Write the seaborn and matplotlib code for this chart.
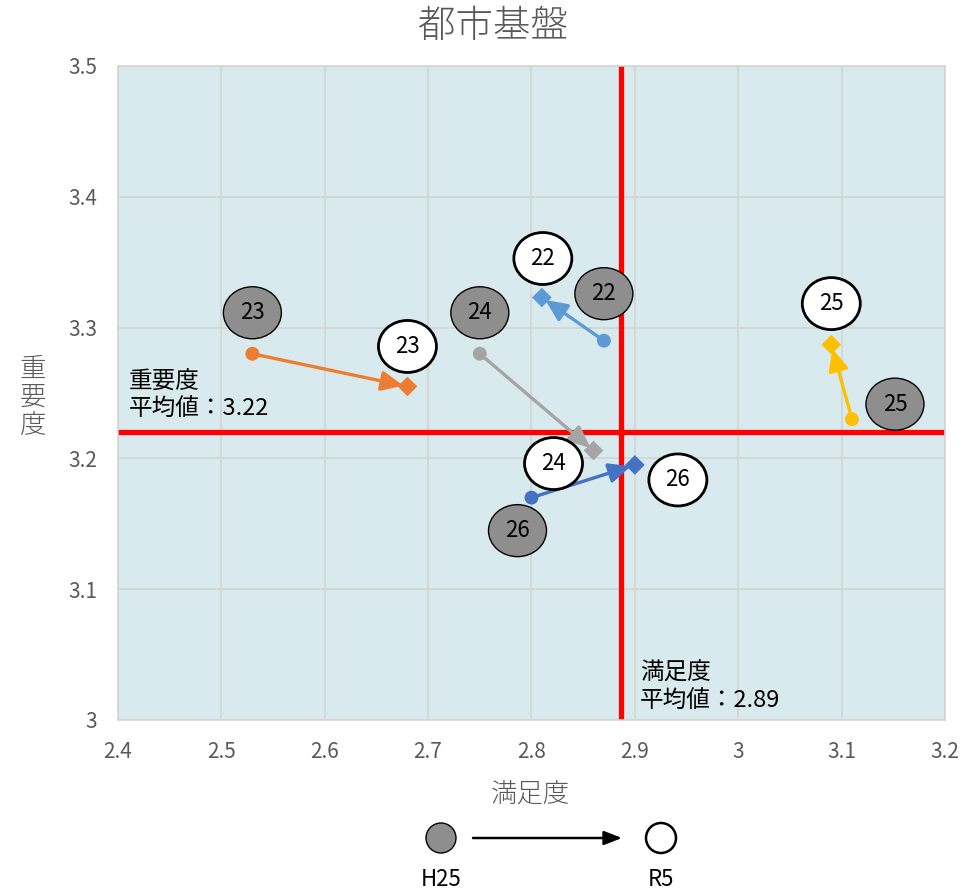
import numpy as np
import pandas as pd
import matplotlib
matplotlib.use("Agg")
import matplotlib.pyplot as plt
from matplotlib.patches import Ellipse
import seaborn as sns

# -------------------------
# Data
# -------------------------
items = ["22", "23", "24", "25", "26"]
sat_h25 = [2.87, 2.53, 2.75, 3.11, 2.80]
imp_h25 = [3.29, 3.28, 3.28, 3.23, 3.17]
sat_r5 = [2.81, 2.68, 2.86, 3.09, 2.90]
imp_r5 = [3.323, 3.255, 3.206, 3.287, 3.195]
item_colors = ["#5B9BD5", "#ED7D31", "#A5A5A5", "#FFC000", "#4472C4"]

sat_mean = 2.887
imp_mean = 3.22

x_ticks = [2.4, 2.5, 2.6, 2.7, 2.8, 2.9, 3.0, 3.1, 3.2]
y_ticks = [3.0, 3.1, 3.2, 3.3, 3.4, 3.5]

# label bubble offsets in pixels (dx right, dy up) from each marker
h25_offsets = [(0, 47), (0, 41), (0, 41), (43, 15), (-14, -33)]
r5_offsets = [(1, 39), (0, 40), (-40, -13), (0, 41), (43, -15)]

GRAY_TXT = "#595959"

sns.set_theme(style="white")
plt.rcParams["font.family"] = ["Noto Sans CJK JP", "DejaVu Sans"]

fig = plt.figure(figsize=(9.77, 8.92), dpi=100)
ax = fig.add_axes([118 / 977, 1 - 720 / 892, 827 / 977, 654 / 892])
ax.set_facecolor("#D9EAEE")
ax.set_xlim(2.4, 3.2)
ax.set_ylim(3.0, 3.5)
ax.set_xticks(x_ticks)
ax.set_yticks(y_ticks)
ax.set_xticklabels([f"{v:g}" for v in x_ticks], fontsize=15, color=GRAY_TXT)
ax.set_yticklabels([f"{v:g}" for v in y_ticks], fontsize=15, color=GRAY_TXT)
ax.tick_params(axis="x", length=0, pad=15)
ax.tick_params(axis="y", length=0, pad=15)
ax.grid(True, color="#D4D4D4", linewidth=1.2)
ax.set_axisbelow(True)
for s in ax.spines.values():
    s.set_color("#D4D4D4")
    s.set_linewidth(1.2)

# mean lines
ax.axvline(sat_mean, color="#FF0000", linewidth=3.8, zorder=2)
ax.axhline(imp_mean, color="#FF0000", linewidth=3.8, zorder=2)

# arrows between periods
for i in range(len(items)):
    ax.annotate(
        "", xy=(sat_r5[i], imp_r5[i]), xytext=(sat_h25[i], imp_h25[i]),
        arrowprops=dict(arrowstyle="-|>,head_length=1.1,head_width=0.5",
                        color=item_colors[i], lw=2.4, shrinkA=0, shrinkB=3),
        zorder=3,
    )

df = pd.DataFrame({
    "item": items * 2,
    "sat": sat_h25 + sat_r5,
    "imp": imp_h25 + imp_r5,
    "period": ["H25"] * 5 + ["R5"] * 5,
})
sns.scatterplot(data=df, x="sat", y="imp", hue="item", style="period",
                palette=item_colors, markers={"H25": "o", "R5": "D"},
                s=100, linewidth=0, legend=False, ax=ax, zorder=4)
ax.set_xlabel("")
ax.set_ylabel("")

# label bubbles
fig.canvas.draw()
to_px = ax.transData.transform
px_x = to_px((1, 0))[0] - to_px((0, 0))[0]
px_y = to_px((0, 1))[1] - to_px((0, 0))[1]


def bubble(x, y, off, text, filled):
    cx = x + off[0] / px_x
    cy = y + off[1] / px_y
    face = "#8E8E8E" if filled else "white"
    lw = 1.0 if filled else 2.0
    ax.add_patch(Ellipse((cx, cy), 58 / px_x, 52 / px_y, facecolor=face,
                         edgecolor="black", linewidth=lw, zorder=5))
    ax.text(cx, cy, text, ha="center", va="center", fontsize=16,
            color="black", zorder=6)


for i, it in enumerate(items):
    bubble(sat_h25[i], imp_h25[i], h25_offsets[i], it, True)
    bubble(sat_r5[i], imp_r5[i], r5_offsets[i], it, False)

# mean annotations
ax.text(2.41, 3.248, f"重要度\n平均値：{imp_mean:.2f}", ha="left", va="center",
        fontsize=17, color="black", linespacing=1.25, zorder=6)
ax.text(2.905, 3.025, f"満足度\n平均値：{sat_mean:.2f}", ha="left", va="center",
        fontsize=17, color="black", linespacing=1.25, zorder=6)

# titles
fig.text(493 / 977, 1 - 26 / 892, "都市基盤", ha="center", va="center",
         fontsize=27, color=GRAY_TXT, fontweight="light")
fig.text(530 / 977, 1 - 795 / 892, "満足度", ha="center", va="center",
         fontsize=19, color=GRAY_TXT, fontweight="light")
fig.text(33 / 977, 1 - 397 / 892, "重\n要\n度", ha="center", va="center",
         fontsize=19, color=GRAY_TXT, fontweight="light", linespacing=1.0)

# bottom legend (pixel coordinates)
lax = fig.add_axes([0, 0, 1, 95 / 892])
lax.set_xlim(0, 977)
lax.set_ylim(95, 0)
lax.axis("off")
lax.add_patch(Ellipse((441, 41), 30, 30, facecolor="#8E8E8E",
                      edgecolor="black", linewidth=1.0))
lax.add_patch(Ellipse((661, 41), 30, 30, facecolor="white",
                      edgecolor="black", linewidth=1.8))
lax.annotate("", xy=(622, 41), xytext=(473, 41),
             arrowprops=dict(arrowstyle="-|>,head_length=0.9,head_width=0.35",
                             color="black", lw=1.8, shrinkA=0, shrinkB=0))
lax.text(441, 83, "H25", ha="center", va="center", fontsize=16, color="black")
lax.text(661, 83, "R5", ha="center", va="center", fontsize=16, color="black")

fig.savefig("out.png", dpi=100)
